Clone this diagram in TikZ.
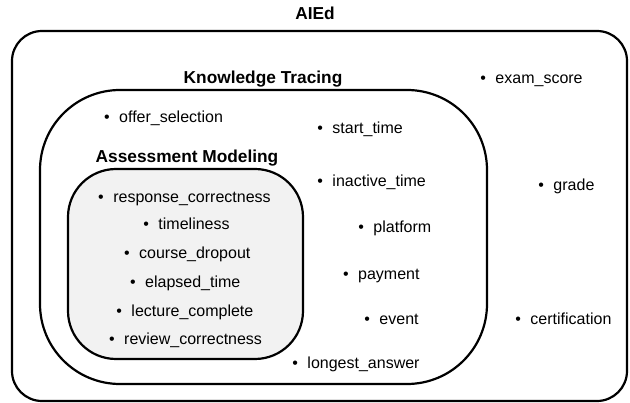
\documentclass[tikz,border=0pt]{standalone}
\usepackage{fontspec}
\setmainfont{Liberation Sans}
\usetikzlibrary{positioning}
\definecolor{amfill}{HTML}{F2F2F2}
\tikzset{
  setbox/.style={draw=black, line width=2.2pt},
  settitle/.style={anchor=base, inner sep=0pt, font=\fontsize{17.3}{20}\selectfont\bfseries},
  feature/.style={anchor=base west, inner sep=0pt, font=\fontsize{16}{18}\selectfont},
}
\newcommand{\feat}[1]{\textbullet\hspace{9.5pt}#1}

\begin{document}
\begin{tikzpicture}[x=1pt,y=-1pt]
\useasboundingbox (0,0) rectangle (630,403);

	% ---------------------
	% Nested sets
	\draw[setbox, rounded corners=30pt] (12,31) rectangle (627,401);
	\draw[setbox, rounded corners=80pt] (40,90) rectangle (487,384);
	\draw[setbox, fill=amfill, rounded corners=48pt] (68,169) rectangle (303,359);

	% ---------------------
	% Set titles
	\node[settitle] (AIEd) at (315,20) {AIEd};
	\node[settitle] (KT) at (263,84) {Knowledge Tracing};
	\node[settitle] (AM) at (187,163) {Assessment Modeling};

	% ---------------------
	% Assessment Modeling features
	\node[feature] (ResponseCorrectness) at (98,202.4) {\feat{response\_correctness}};
	\node[feature] (Timeliness) at (143.2,229.5) {\feat{timeliness}};
	\node[feature] (CourseDropout) at (123.9,258.7) {\feat{course\_dropout}};
	\node[feature] (ElapsedTime) at (129.9,287.4) {\feat{elapsed\_time}};
	\node[feature] (LectureComplete) at (116.2,316.4) {\feat{lecture\_complete}};
	\node[feature] (ReviewCorrectness) at (108.9,344.7) {\feat{review\_correctness}};

	% ---------------------
	% Knowledge Tracing features
	\node[feature] (OfferSelection) at (103.9,122.7) {\feat{offer\_selection}};
	\node[feature] (StartTime) at (317.2,133.7) {\feat{start\_time}};
	\node[feature] (InactiveTime) at (317.2,186.7) {\feat{inactive\_time}};
	\node[feature] (Platform) at (358.2,232.4) {\feat{platform}};
	\node[feature] (Payment) at (342.9,279.7) {\feat{payment}};
	\node[feature] (Event) at (364.2,324.7) {\feat{event}};
	\node[feature] (LongestAnswer) at (292.2,368.7) {\feat{longest\_answer}};

	% ---------------------
	% AIEd features
	\node[feature] (ExamScore) at (480.2,83.7) {\feat{exam\_score}};
	\node[feature] (Grade) at (538.2,190.7) {\feat{grade}};
	\node[feature] (Certification) at (515.2,324.7) {\feat{certification}};

\end{tikzpicture}
\end{document}
